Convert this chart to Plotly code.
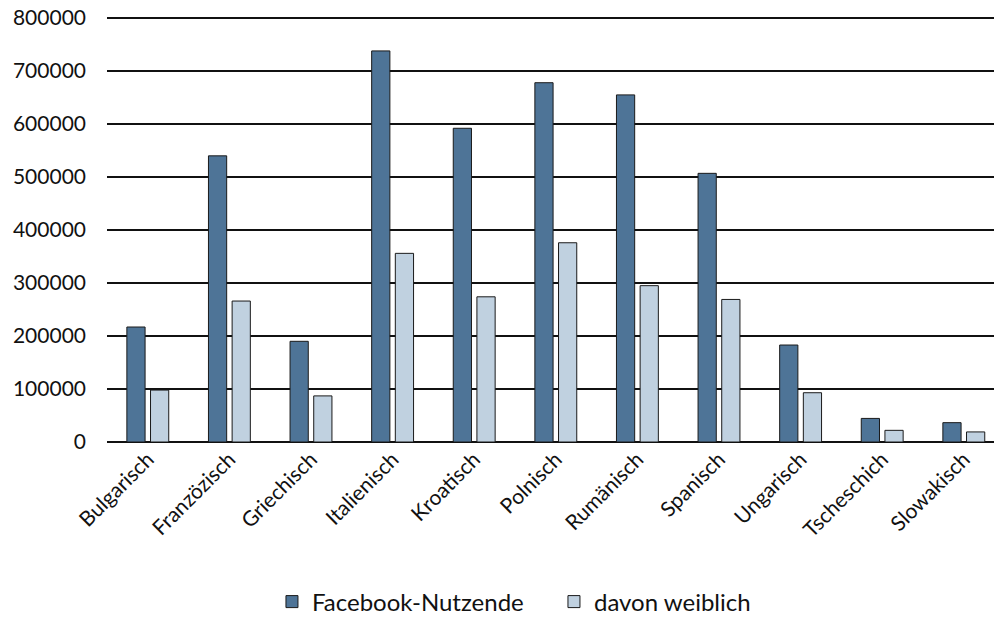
import plotly.graph_objects as go

categories = ["Bulgarisch", "Franzözisch", "Griechisch", "Italienisch", "Kroatisch", "Polnisch",
              "Rumänisch", "Spanisch", "Ungarisch", "Tscheschich", "Slowakisch"]
nutzende = [217000, 540000, 190000, 738000, 592000, 678000, 655000, 507000, 183000, 44500, 36500]
weiblich = [98000, 266000, 87000, 356000, 274000, 376000, 295000, 269000, 93000, 22000, 19000]
y_ticks = [0, 100000, 200000, 300000, 400000, 500000, 600000, 700000, 800000]

FONT = "Lato, Carlito, Calibri, sans-serif"

fig = go.Figure()
fig.add_trace(go.Bar(name="Facebook-Nutzende", x=categories, y=nutzende,
                     marker=dict(color="#4E7497", line=dict(color="#1a1a1a", width=1))))
fig.add_trace(go.Bar(name="davon weiblich", x=categories, y=weiblich,
                     marker=dict(color="#C0D1E0", line=dict(color="#1a1a1a", width=1))))

fig.update_layout(
    width=994, height=625,
    margin=dict(l=107, r=0, t=17, b=183, autoexpand=False),
    paper_bgcolor="white", plot_bgcolor="white",
    barmode="group", bargap=0.42, bargroupgap=0.23,
    font=dict(family=FONT, size=21, color="#111"),
    showlegend=True,
    legend=dict(orientation="h", xref="container", yref="container", x=0.2736, xanchor="left",
                y=0.0368, yanchor="middle", font=dict(size=24), itemwidth=30,
                entrywidth=237, traceorder="normal"),
    xaxis=dict(range=[-0.5, 10.37], tickangle=-45, showgrid=False, showline=False,
               ticks="", tickfont=dict(size=21), automargin=False),
    yaxis=dict(range=[0, 802000], tickvals=y_ticks, ticktext=[str(v) for v in y_ticks],
               showgrid=True, gridcolor="#111", gridwidth=1.5, zeroline=True,
               zerolinecolor="#111", zerolinewidth=2, showline=False,
               ticks="", ticklabelstandoff=20, ticklabeloverflow="allow",
               tickfont=dict(size=21), automargin=False),
)

fig.write_html("out.html", config={"displayModeBar": False},
               post_script="document.body.style.margin='0';")
